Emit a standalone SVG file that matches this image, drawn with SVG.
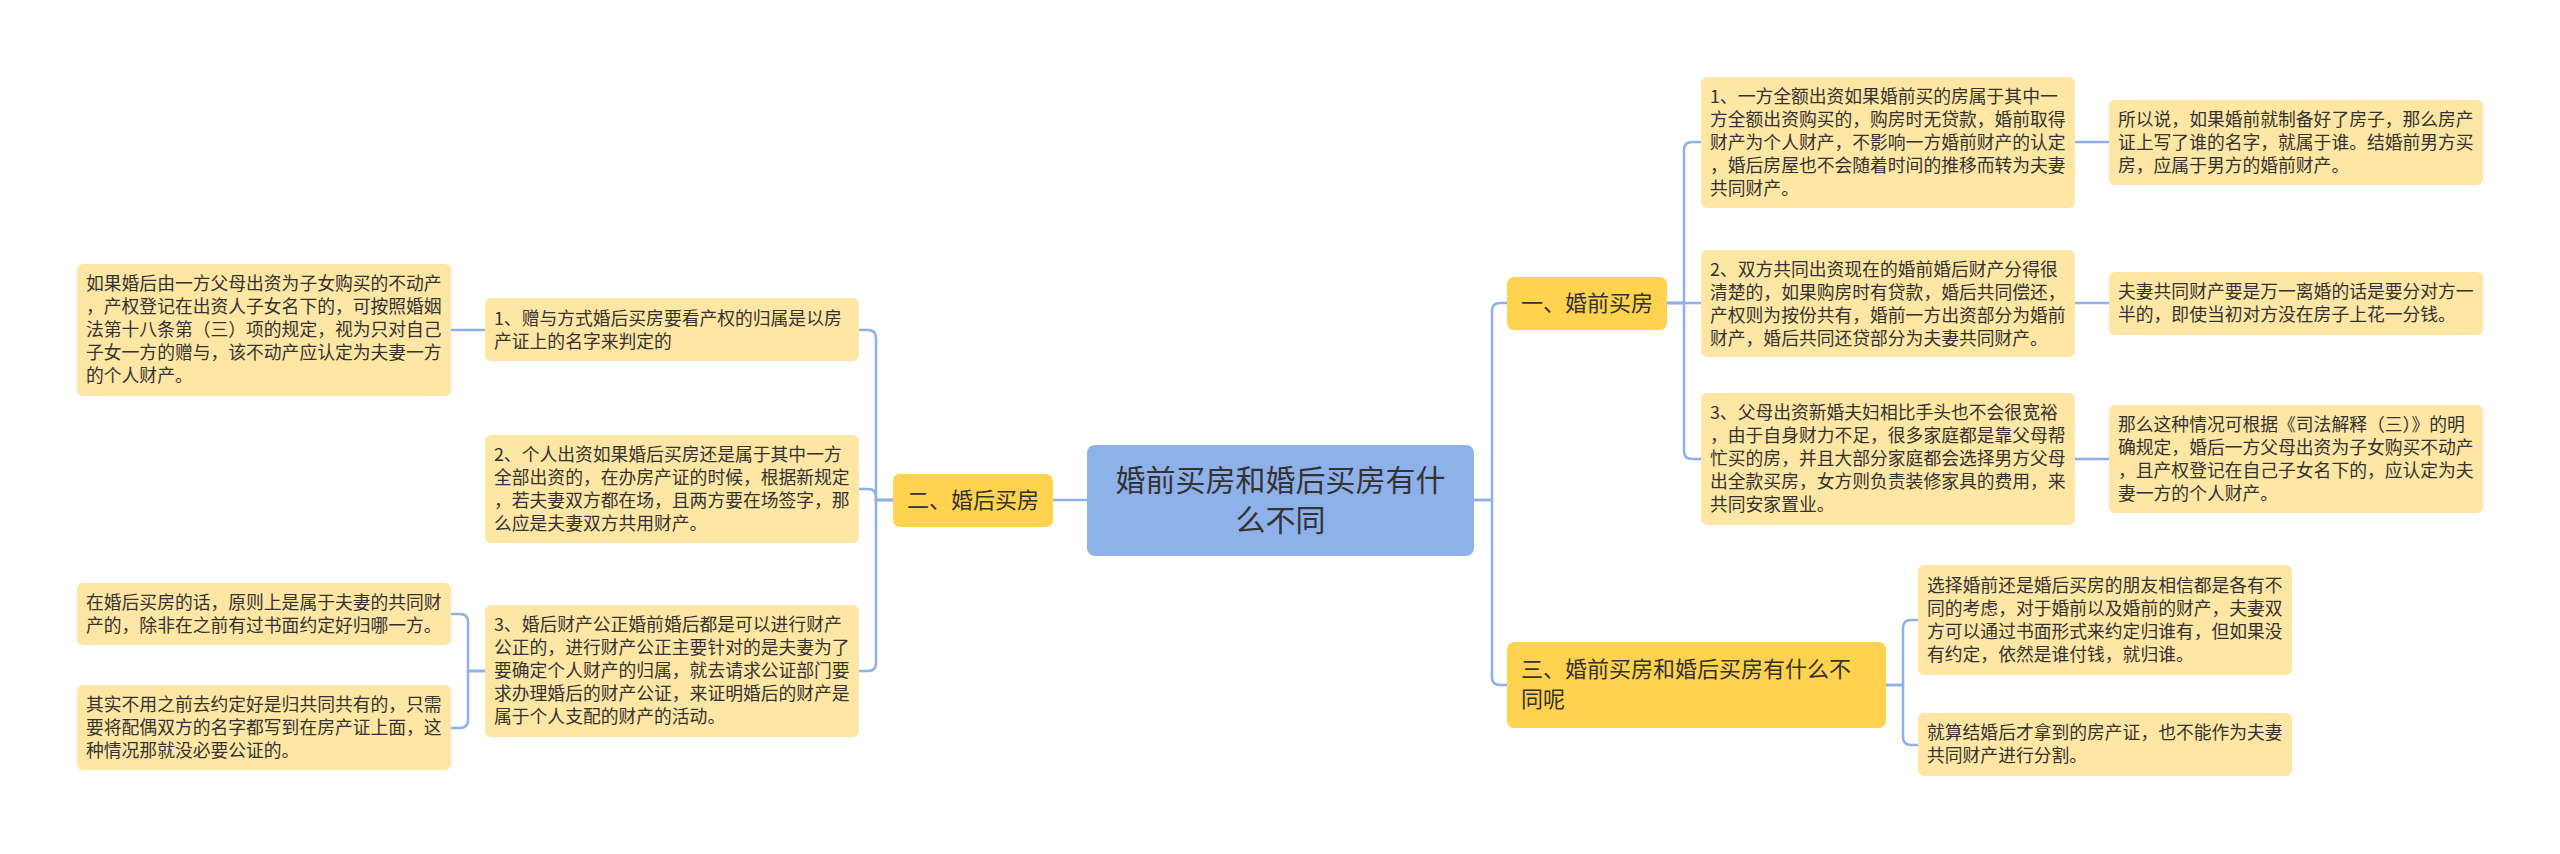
<svg xmlns="http://www.w3.org/2000/svg" width="2560" height="854" viewBox="0 0 2560 854">
<style>
.leaf{fill:#FEE6A4;}
.l1{fill:#FFD24F;}
.root{fill:#8FB1EA;}
.t{font-family:"Noto Sans CJK SC","Noto Sans",sans-serif;font-size:17.8px;fill:#333333;}
.t1{font-family:"Noto Sans CJK SC","Noto Sans",sans-serif;font-size:22px;fill:#333333;}
.tr{font-family:"Noto Sans CJK SC","Noto Sans",sans-serif;font-size:30px;fill:#333333;text-anchor:middle;}
.c{fill:none;stroke:#8FB1EA;stroke-width:2.5;}
</style>
<rect width="2560" height="854" fill="#ffffff"/>
<g id="connectors">
<path class="c" d="M1087,500 H1053"/>
<path class="c" d="M893,500 H876 V338 Q876,330 868,330 H859"/>
<path class="c" d="M893,500 H876 V497 Q876,489 868,489 H859"/>
<path class="c" d="M893,500 H876 V663 Q876,671 868,671 H859"/>
<path class="c" d="M485,330 H451"/>
<path class="c" d="M485,671 H468 V622 Q468,614 460,614 H451"/>
<path class="c" d="M485,671 H468 V720 Q468,728 460,728 H451"/>
<path class="c" d="M1474,500 H1492 V311 Q1492,303 1500,303 H1507"/>
<path class="c" d="M1474,500 H1492 V677 Q1492,685 1500,685 H1507"/>
<path class="c" d="M1667,303 H1684 V150 Q1684,142 1692,142 H1701"/>
<path class="c" d="M1667,303 H1701"/>
<path class="c" d="M1667,303 H1684 V451 Q1684,459 1692,459 H1701"/>
<path class="c" d="M2075,142 H2109"/>
<path class="c" d="M2075,303 H2109"/>
<path class="c" d="M2075,459 H2109"/>
<path class="c" d="M1886,685 H1903 V628 Q1903,620 1911,620 H1918"/>
<path class="c" d="M1886,685 H1903 V737 Q1903,745 1911,745 H1918"/>
</g>
<g id="root">
<rect class="root" x="1087" y="445" width="387" height="111" rx="8"/>
<text class="tr" x="1280.5" y="491">婚前买房和婚后买房有什</text>
<text class="tr" x="1280.5" y="531">么不同</text>
</g>
<g id="n2">
<rect class="l1" x="893" y="474" width="160" height="53" rx="7"/>
<text class="t1" x="907" y="508">二、婚后买房</text>
</g>
<g id="n1">
<rect class="l1" x="1507" y="277" width="160" height="53" rx="7"/>
<text class="t1" x="1521" y="311">一、婚前买房</text>
</g>
<g id="n3">
<rect class="l1" x="1507" y="642" width="379" height="86" rx="7"/>
<text class="t1" x="1521" y="677">三、婚前买房和婚后买房有什么不</text>
<text class="t1" x="1521" y="707">同呢</text>
</g>
<g id="a">
<rect class="leaf" x="77" y="264" width="374" height="132" rx="6"/>
<text class="t" x="86"><tspan x="86" y="290">如果婚后由一方父母出资为子女购买的不动产</tspan><tspan x="86" y="313">，产权登记在出资人子女名下的，可按照婚姻</tspan><tspan x="86" y="336">法第十八条第（三）项的规定，视为只对自己</tspan><tspan x="86" y="359">子女一方的赠与，该不动产应认定为夫妻一方</tspan><tspan x="86" y="382">的个人财产。</tspan></text>
</g>
<g id="b1">
<rect class="leaf" x="485" y="298" width="374" height="63" rx="6"/>
<text class="t"><tspan x="494" y="325">1、赠与方式婚后买房要看产权的归属是以房</tspan><tspan x="494" y="348">产证上的名字来判定的</tspan></text>
</g>
<g id="b2">
<rect class="leaf" x="485" y="435" width="374" height="108" rx="6"/>
<text class="t"><tspan x="494" y="461">2、个人出资如果婚后买房还是属于其中一方</tspan><tspan x="494" y="484">全部出资的，在办房产证的时候，根据新规定</tspan><tspan x="494" y="507">，若夫妻双方都在场，且两方要在场签字，那</tspan><tspan x="494" y="530">么应是夫妻双方共用财产。</tspan></text>
</g>
<g id="b3">
<rect class="leaf" x="485" y="605" width="374" height="132" rx="6"/>
<text class="t"><tspan x="494" y="631">3、婚后财产公正婚前婚后都是可以进行财产</tspan><tspan x="494" y="654">公正的，进行财产公正主要针对的是夫妻为了</tspan><tspan x="494" y="677">要确定个人财产的归属，就去请求公证部门要</tspan><tspan x="494" y="700">求办理婚后的财产公证，来证明婚后的财产是</tspan><tspan x="494" y="723">属于个人支配的财产的活动。</tspan></text>
</g>
<g id="c1">
<rect class="leaf" x="77" y="583" width="374" height="62" rx="6"/>
<text class="t"><tspan x="86" y="609">在婚后买房的话，原则上是属于夫妻的共同财</tspan><tspan x="86" y="632">产的，除非在之前有过书面约定好归哪一方。</tspan></text>
</g>
<g id="c2">
<rect class="leaf" x="77" y="685" width="374" height="85" rx="6"/>
<text class="t"><tspan x="86" y="711">其实不用之前去约定好是归共同共有的，只需</tspan><tspan x="86" y="734">要将配偶双方的名字都写到在房产证上面，这</tspan><tspan x="86" y="757">种情况那就没必要公证的。</tspan></text>
</g>
<g id="d1">
<rect class="leaf" x="1701" y="77" width="374" height="131" rx="6"/>
<text class="t"><tspan x="1710" y="103">1、一方全额出资如果婚前买的房属于其中一</tspan><tspan x="1710" y="126">方全额出资购买的，购房时无贷款，婚前取得</tspan><tspan x="1710" y="149">财产为个人财产，不影响一方婚前财产的认定</tspan><tspan x="1710" y="172">，婚后房屋也不会随着时间的推移而转为夫妻</tspan><tspan x="1710" y="195">共同财产。</tspan></text>
</g>
<g id="d2">
<rect class="leaf" x="1701" y="250" width="374" height="107" rx="6"/>
<text class="t"><tspan x="1710" y="276">2、双方共同出资现在的婚前婚后财产分得很</tspan><tspan x="1710" y="299">清楚的，如果购房时有贷款，婚后共同偿还，</tspan><tspan x="1710" y="322">产权则为按份共有，婚前一方出资部分为婚前</tspan><tspan x="1710" y="345">财产，婚后共同还贷部分为夫妻共同财产。</tspan></text>
</g>
<g id="d3">
<rect class="leaf" x="1701" y="393" width="374" height="132" rx="6"/>
<text class="t"><tspan x="1710" y="419">3、父母出资新婚夫妇相比手头也不会很宽裕</tspan><tspan x="1710" y="442">，由于自身财力不足，很多家庭都是靠父母帮</tspan><tspan x="1710" y="465">忙买的房，并且大部分家庭都会选择男方父母</tspan><tspan x="1710" y="488">出全款买房，女方则负责装修家具的费用，来</tspan><tspan x="1710" y="511">共同安家置业。</tspan></text>
</g>
<g id="e1">
<rect class="leaf" x="2109" y="100" width="374" height="85" rx="6"/>
<text class="t"><tspan x="2118" y="126">所以说，如果婚前就制备好了房子，那么房产</tspan><tspan x="2118" y="149">证上写了谁的名字，就属于谁。结婚前男方买</tspan><tspan x="2118" y="172">房，应属于男方的婚前财产。</tspan></text>
</g>
<g id="e2">
<rect class="leaf" x="2109" y="272" width="374" height="63" rx="6"/>
<text class="t"><tspan x="2118" y="298">夫妻共同财产要是万一离婚的话是要分对方一</tspan><tspan x="2118" y="321">半的，即使当初对方没在房子上花一分钱。</tspan></text>
</g>
<g id="e3">
<rect class="leaf" x="2109" y="405" width="374" height="108" rx="6"/>
<text class="t"><tspan x="2118" y="431">那么这种情况可根据《司法解释（三）》的明</tspan><tspan x="2118" y="454">确规定，婚后一方父母出资为子女购买不动产</tspan><tspan x="2118" y="477">，且产权登记在自己子女名下的，应认定为夫</tspan><tspan x="2118" y="500">妻一方的个人财产。</tspan></text>
</g>
<g id="f1">
<rect class="leaf" x="1918" y="565" width="374" height="110" rx="6"/>
<text class="t"><tspan x="1927" y="592">选择婚前还是婚后买房的朋友相信都是各有不</tspan><tspan x="1927" y="615">同的考虑，对于婚前以及婚前的财产，夫妻双</tspan><tspan x="1927" y="638">方可以通过书面形式来约定归谁有，但如果没</tspan><tspan x="1927" y="661">有约定，依然是谁付钱，就归谁。</tspan></text>
</g>
<g id="f2">
<rect class="leaf" x="1918" y="713" width="374" height="63" rx="6"/>
<text class="t"><tspan x="1927" y="739">就算结婚后才拿到的房产证，也不能作为夫妻</tspan><tspan x="1927" y="762">共同财产进行分割。</tspan></text>
</g>
</svg>
